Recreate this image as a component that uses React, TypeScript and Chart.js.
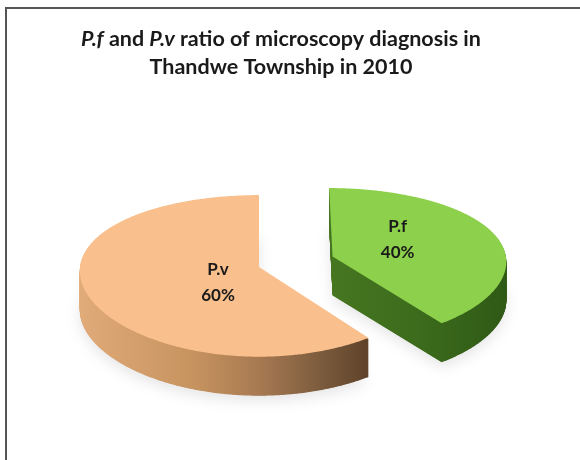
import React, { useEffect, useRef } from 'react';
import { Chart, registerables } from 'chart.js';

Chart.register(...registerables);

// ---- data ----
const categories = ['P.f', 'P.v'];
const percentValues = [40, 60];
const titleLine1 = [
  { text: 'P.f', italic: true },
  { text: ' and ', italic: false },
  { text: 'P.v', italic: true },
  { text: ' ratio of microscopy diagnosis in', italic: false },
];
const titleLine2 = [{ text: 'Thandwe Township in 2010', italic: false }];

// ---- styles ----
const topColors = ['#8dd04c', '#f9bf8c'];
const sideStops: [number, string][][] = [
  [[0, '#467620'], [0.5, '#3c6b1c'], [1, '#2f5916']],
  [[0, '#e0aa79'], [0.4, '#c6935f'], [0.62, '#a87a52'], [0.85, '#7a5a3c'], [1, '#5f432a']],
];
const sideGradientSpan: [number, number][] = [[0, 1], [-1, 0.6]]; // in radii from slice apex
const explodeFraction = [0.435, 0];
const sliceScale = [0.975, 1];
const labelNudgeY = [-8, 10];
const labelRadiusFactor = [0.4, 0.24];
const VERT_SQUASH = 0.446;
const PERSP_X = 0.05;
const PERSP_Y = 0.11;
const DEPTH_PX = 39;
const FONT = 'Lato, "Open Sans", sans-serif';

const framePlugin = {
  id: 'frame',
  beforeDraw(chart: any) {
    const ctx = chart.ctx;
    ctx.save();
    ctx.fillStyle = '#ffffff';
    ctx.fillRect(0, 0, chart.width, chart.height);
    ctx.fillStyle = '#555555';
    ctx.fillRect(5, 7, chart.width, 2);
    ctx.fillRect(5, 7, 2, chart.height);
    ctx.restore();
  },
  afterDraw(chart: any) {
    const ctx = chart.ctx;
    ctx.save();
    ctx.fillStyle = '#1a1a1a';
    ctx.textBaseline = 'alphabetic';
    const lines = [titleLine1, titleLine2];
    const baselines = [46, 74];
    const cx = 281;
    lines.forEach((parts, li) => {
      const fontOf = (p: any) => `${p.italic ? 'italic ' : ''}bold 21.5px ${FONT}`;
      let total = 0;
      parts.forEach((p) => {
        ctx.font = fontOf(p);
        total += ctx.measureText(p.text).width;
      });
      let xpos = cx - total / 2;
      parts.forEach((p) => {
        ctx.font = fontOf(p);
        ctx.textAlign = 'left';
        ctx.fillText(p.text, xpos, baselines[li]);
        xpos += ctx.measureText(p.text).width;
      });
    });
    ctx.restore();
  },
};

const pie3dPlugin = {
  id: 'pie3d',
  beforeDatasetsDraw(chart: any) {
    const ctx = chart.ctx;
    const meta = chart.getDatasetMeta(0);
    const labelsToDraw: any[] = [];
    meta.data.forEach((el: any, i: number) => {
      const { x: cx, y: cy, startAngle, endAngle, outerRadius } = el.getProps(
        ['x', 'y', 'startAngle', 'endAngle', 'outerRadius'],
        true
      );
      const R0 = outerRadius;
      const R = outerRadius * sliceScale[i];
      const proj = (u: number, v: number): [number, number] => [
        cx + u / (1 - (v * PERSP_X) / R0),
        cy + (v * VERT_SQUASH) / (1 - (v * PERSP_Y) / R0),
      ];
      const mid = (startAngle + endAngle) / 2;
      const ou = Math.cos(mid) * explodeFraction[i] * R0;
      const ov = Math.sin(mid) * explodeFraction[i] * R0;
      const pts: [number, number][] = [proj(ou, ov)];
      const steps = Math.max(8, Math.ceil(((endAngle - startAngle) * 180) / Math.PI / 0.5));
      for (let k = 0; k <= steps; k++) {
        const a = startAngle + ((endAngle - startAngle) * k) / steps;
        pts.push(proj(ou + Math.cos(a) * R, ov + Math.sin(a) * R));
      }
      const pathAt = (dy: number) => {
        ctx.beginPath();
        pts.forEach(([px, py], k) => (k === 0 ? ctx.moveTo(px, py + dy) : ctx.lineTo(px, py + dy)));
        ctx.closePath();
      };
      const apexX = pts[0][0];
      const [g0, g1] = sideGradientSpan[i];
      const grad = ctx.createLinearGradient(apexX + g0 * R, 0, apexX + g1 * R, 0);
      sideStops[i].forEach(([o, c]) => grad.addColorStop(o, c));
      for (let d = DEPTH_PX; d >= 1; d -= 0.5) {
        ctx.save();
        if (d === DEPTH_PX) {
          ctx.shadowColor = 'rgba(0,0,0,0.10)';
          ctx.shadowBlur = 14;
          ctx.shadowOffsetY = 5;
        }
        pathAt(d);
        ctx.fillStyle = grad;
        ctx.fill();
        ctx.restore();
      }
      ctx.save();
      pathAt(0);
      ctx.fillStyle = el.options.backgroundColor;
      ctx.fill();
      ctx.restore();
      const f = labelRadiusFactor[i] * R;
      const [lx, ly] = proj(ou + Math.cos(mid) * f, ov + Math.sin(mid) * f);
      labelsToDraw.push({
        x: lx,
        y: ly + labelNudgeY[i],
        name: categories[i],
        pct: percentValues[i] + '%',
      });
    });
    ctx.save();
    ctx.fillStyle = '#1a1a1a';
    ctx.font = `bold 17px ${FONT}`;
    ctx.textAlign = 'center';
    ctx.textBaseline = 'middle';
    labelsToDraw.forEach((l) => {
      ctx.fillText(l.name, l.x, l.y - 13);
      ctx.fillText(l.pct, l.x, l.y + 13);
    });
    ctx.restore();
    return false;
  },
};

export default function App() {
  const ref = useRef<HTMLCanvasElement | null>(null);
  useEffect(() => {
    if (!ref.current) return;
    const chart = new Chart(ref.current, {
      type: 'pie',
      data: {
        labels: categories,
        datasets: [
          {
            data: percentValues,
            backgroundColor: topColors,
            borderWidth: 0,
            offset: 0,
            hoverOffset: 0,
          },
        ],
      },
      options: {
        responsive: false,
        animation: false,
        devicePixelRatio: 1,
        radius: 179,
        layout: { padding: { left: 0, right: 62, top: 74, bottom: 0 } },
        plugins: {
          legend: { display: false },
          tooltip: { enabled: false },
          title: { display: false },
        },
        events: [],
      } as any,
      plugins: [framePlugin, pie3dPlugin],
    });
    return () => chart.destroy();
  }, []);
  return (
    <div style={{ position: 'absolute', left: 0, top: 0, width: 580, height: 460, overflow: 'hidden' }}>
      <canvas ref={ref} width={580} height={460} style={{ display: 'block' }} />
    </div>
  );
}
